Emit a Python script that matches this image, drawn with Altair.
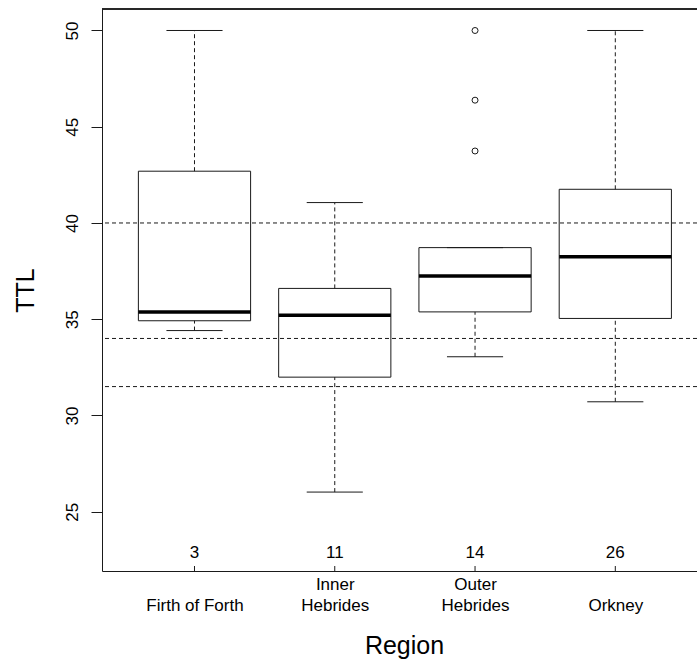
import json
import altair as alt
import pandas as pd

# ---- data ----
regions = ["Firth of Forth", "Inner Hebrides", "Outer Hebrides", "Orkney"]
label_lines = [["", "Firth of Forth"], ["Inner", "Hebrides"], ["Outer", "Hebrides"], ["", "Orkney"]]
positions = [1, 2, 3, 4]
counts = [3, 11, 14, 26]
whisker_low = [34.41, 26.02, 33.05, 30.71]
q1 = [34.92, 31.99, 35.38, 35.04]
median = [35.38, 35.21, 37.25, 38.24]
q3 = [42.69, 36.60, 38.72, 41.75]
whisker_high = [50.0, 41.06, 38.72, 50.0]
outlier_pos = [3, 3, 3]
outlier_values = [43.74, 46.38, 50.0]
ref_lines = [40, 34, 31.5]
y_ticks = [25, 30, 35, 40, 45, 50]

FONT = "Liberation Sans"
INK = "#1a1a1a"
W, H = 595, 562

boxes = pd.DataFrame({
    "region": regions, "pos": positions, "n": counts,
    "lower": whisker_low, "q1": q1, "median": median, "q3": q3, "upper": whisker_high,
})
outliers = pd.DataFrame({"pos": outlier_pos, "value": outlier_values})
refs = pd.DataFrame({"ref": ref_lines})

label_expr = ""
for p, lines in zip(positions, label_lines):
    label_expr += f"datum.value == {p} ? {json.dumps(lines)} : "
label_expr += "''"

x_scale = alt.Scale(domain=[0.3406, 4.5824], nice=False, zero=False)
y_scale = alt.Scale(domain=[21.919, 51.117], nice=False, zero=False)

x_axis = alt.Axis(
    values=positions, labelExpr=label_expr, ticks=False, tickSize=0,
    labelPadding=22, labelBaseline="bottom", labelAlign="center", labelLineHeight=21,
    labelFontSize=17, labelFont=FONT, labelColor="#000", labelFlush=False,
    labelOverlap=False, domainColor=INK, grid=False,
    title="Region", titleFont=FONT, titleFontSize=25, titleFontWeight="normal",
    titleColor="#000", titleX=302, titleY=82, titleBaseline="alphabetic", titleAlign="center",
)
y_axis = alt.Axis(
    values=y_ticks, tickSize=11, tickColor=INK, domainColor=INK, grid=False,
    labelAngle=270, labelAlign="center", labelBaseline="alphabetic", labelPadding=14,
    labelFontSize=17, labelFont=FONT, labelColor="#000", labelFlush=False, labelOverlap=False,
    title="TTL", titleAngle=270, titleX=-69, titleY=281, titleAlign="center",
    titleBaseline="alphabetic", titleFont=FONT, titleFontSize=25, titleFontWeight="normal",
    titleColor="#000",
)

def X(field):
    return alt.X(field, type="quantitative", scale=x_scale, axis=x_axis)

def Y(field):
    return alt.Y(field, type="quantitative", scale=y_scale, axis=y_axis)

base = alt.Chart(boxes)

whisk_up = base.mark_rule(color=INK, strokeWidth=1, strokeDash=[4, 3]).encode(
    x=X("pos"), y=Y("q3"), y2="upper")
whisk_dn = base.mark_rule(color=INK, strokeWidth=1, strokeDash=[4, 3]).encode(
    x=X("pos"), y=Y("lower"), y2="q1")

caps = base.transform_fold(["lower", "upper"], as_=["which", "cap"]).transform_calculate(
    cap_lo="datum.pos - 0.2", cap_hi="datum.pos + 0.2"
).mark_rule(color=INK, strokeWidth=1).encode(x=X("cap_lo"), x2="cap_hi", y=Y("cap"))

box = base.transform_calculate(
    box_lo="datum.pos - 0.4", box_hi="datum.pos + 0.4"
).mark_rect(fillOpacity=0, stroke=INK, strokeWidth=1).encode(
    x=X("box_lo"), x2="box_hi", y=Y("q1"), y2="q3")

med = base.transform_calculate(
    box_lo="datum.pos - 0.4", box_hi="datum.pos + 0.4"
).mark_rule(color="#000", strokeWidth=3.5).encode(
    x=X("box_lo"), x2="box_hi", y=Y("median"))

outl = alt.Chart(outliers).mark_point(
    shape="circle", filled=False, size=36, color=INK, strokeWidth=1, opacity=1
).encode(x=X("pos"), y=Y("value"))

hlines = alt.Chart(refs).mark_rule(color=INK, strokeWidth=1, strokeDash=[4, 3]).encode(
    y=Y("ref"))

ticks_in = base.mark_rule(color=INK, strokeWidth=1).encode(
    x=X("pos"), y=alt.value(H), y2=alt.value(H - 5))

count_text = base.mark_text(
    font=FONT, fontSize=17, baseline="alphabetic", align="center", dy=-13, color="#000"
).encode(x=X("pos"), y=alt.value(H), text="n:Q")

top_border = base.mark_rule(color=INK, strokeWidth=1).encode(
    x=alt.value(0), x2=alt.value(W), y=alt.value(0))

chart = alt.layer(
    whisk_up, whisk_dn, caps, box, med, outl, hlines, ticks_in, count_text, top_border
).properties(
    width=W, height=H,
    autosize=alt.AutoSizeParams(type="none"),
    padding={"left": 102, "top": 9, "right": 0, "bottom": 660 - 9 - H},
    background="white",
).configure_view(stroke=None)

chart.save("out.html", embed_options={"renderer": "svg", "actions": False})
